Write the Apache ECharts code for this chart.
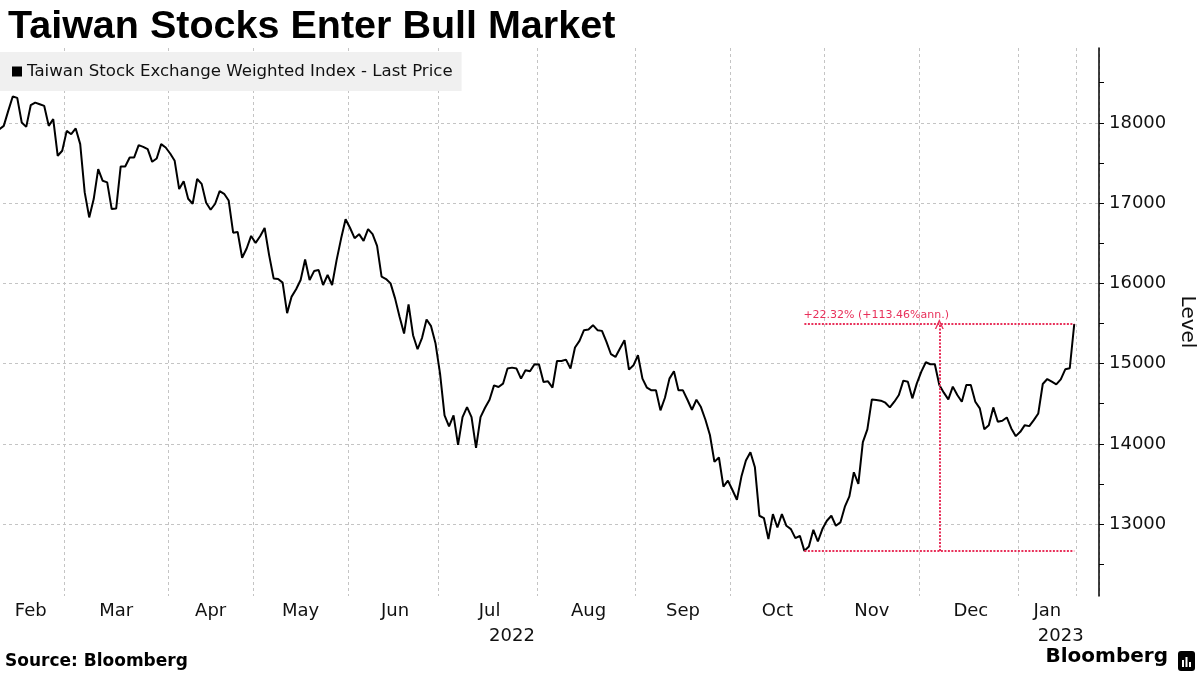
<!DOCTYPE html>
<html>
<head>
<meta charset="utf-8">
<script src="https://cdn.jsdelivr.net/npm/echarts@6/dist/echarts.min.js"></script>
<style>
  html, body { margin: 0; padding: 0; background: #fff; }
  #c { width: 1200px; height: 675px; }
</style>
</head>
<body>
<div id="c"></div>
<script>
// ---------------- DATA ----------------
const titleText = 'Taiwan Stocks Enter Bull Market';
const seriesName = 'Taiwan Stock Exchange Weighted Index - Last Price';
const yAxisName = 'Level';
const sourceText = 'Source: Bloomberg';
const annotationText = '+22.32% (+113.46%ann.)';

// month keys and their labels (trading-day x axis)
const monthKeys  = ['2022-02','2022-03','2022-04','2022-05','2022-06','2022-07','2022-08','2022-09','2022-10','2022-11','2022-12','2023-01'];
const monthNames = ['Feb','Mar','Apr','May','Jun','Jul','Aug','Sep','Oct','Nov','Dec','Jan'];
const yearLabels = ['2022','2023'];

// daily closes (one value per trading day), grouped by the month band they sit in
const feb = [17921, 17963, 18149, 18328, 18311, 18004, 17950, 18220, 18253, 18232, 18211, 17963, 18046, 17590, 17652];
const mar = [17900, 17859, 17930, 17735, 17133, 16822, 17050, 17423, 17278, 17258, 16926, 16934, 17457, 17457, 17569, 17569, 17722, 17701, 17672, 17515, 17556, 17735, 17693];
const apr = [17618, 17527, 17175, 17273, 17054, 16992, 17301, 17240, 17004, 16917, 16992, 17149, 17116, 17033, 16632, 16641, 16319, 16434, 16591];
const may = [16504, 16587, 16690, 16352, 16062, 16054, 16009, 15629, 15835, 15926, 16042, 16298, 16042, 16153, 16166, 15980, 16104, 15980, 16290, 16558, 16798];
const jun = [16690, 16563, 16613, 16529, 16675, 16613, 16467, 16083, 16054, 16000, 15813, 15583, 15375, 15738, 15354, 15179, 15321, 15550, 15467, 15250];
const jul = [14875, 14354, 14217, 14354, 13987, 14333, 14458, 14333, 13950, 14333, 14450, 14550, 14729, 14708, 14750, 14938, 14950, 14938, 14813, 14917, 14904, 14992];
const aug = [14988, 14771, 14779, 14700, 15033, 15033, 15050, 14938, 15200, 15283, 15417, 15425, 15479, 15417, 15408, 15271, 15117, 15083, 15188, 15292, 14925, 14979];
const sep = [15104, 14813, 14700, 14667, 14667, 14417, 14575, 14813, 14904, 14667, 14667, 14550, 14425, 14550, 14458, 14300, 14110, 13775, 13830, 13467, 13542];
const oct = [13425, 13304, 13592, 13792, 13896, 13708, 13104, 13075, 12813, 13125, 12958, 13125, 12979, 12938, 12825, 12854, 12666.12, 12721, 12929, 12783, 12938];
const nov = [13042, 13104, 12979, 13021, 13217, 13346, 13646, 13500, 14021, 14180, 14554, 14546, 14538, 14513, 14454, 14525, 14608, 14788, 14775, 14567, 14754];
const dec = [14900, 15017, 14992, 14992, 14733, 14638, 14554, 14713, 14608, 14525, 14733, 14733, 14525, 14442, 14183, 14233, 14454, 14275, 14288, 14329, 14192, 14096];
const jan = [14150, 14233, 14221, 14296, 14379, 14746, 14808, 14775, 14742, 14804, 14929, 14942, 15493.82];

// empty trading-day slots after the last close (axis runs a little past the data)
const emptySlotsAfter = 5;

// y axis
const yMin = 12104, yMax = 18933;
const yLabelValues = [13000, 14000, 15000, 16000, 17000, 18000];
const yTickValues  = [12500, 13000, 13500, 14000, 14500, 15000, 15500, 16000, 16500, 17000, 17500, 18000, 18500];

// ---------------- BUILD ----------------
const monthly = [feb, mar, apr, may, jun, jul, aug, sep, oct, nov, dec, jan];
const cats = [], vals = [], monthOfCat = {};
const boundaries = new Set(), monthLabelIdx = {}, yearLabelIdx = {};
monthly.forEach((arr, m) => {
  const start = cats.length;
  boundaries.add(start);
  arr.forEach((v, i) => {
    const c = monthKeys[m] + '-d' + (i + 1);
    cats.push(c); vals.push(v); monthOfCat[c] = m;
  });
  let mid = start + Math.round(arr.length / 2 - 0.5);
  if (m === 0) mid = start + Math.floor(arr.length / 2);
  monthLabelIdx[mid] = monthNames[m];
});
const dataEnd = cats.length;
boundaries.add(dataEnd);
for (let i = 0; i < emptySlotsAfter; i++) { cats.push('2023-02-e' + (i + 1)); vals.push(null); }
// year label positions: centre of each year's span on the axis
const firstJan = cats.findIndex(c => c.startsWith('2023'));
yearLabelIdx[Math.round(firstJan / 2)] = yearLabels[0];
yearLabelIdx[Math.floor((firstJan + cats.length) / 2)] = yearLabels[1];

// annotation anchor points
let lowIdx = 0;
vals.forEach((v, i) => { if (v != null && v < vals[lowIdx]) lowIdx = i; });
const lastIdx = dataEnd - 1;
const lowVal = vals[lowIdx], lastVal = vals[lastIdx];
const midIdx = Math.round((lowIdx + lastIdx) / 2);

const RED = '#e8305a';
const GRID = '#c4c4c4';
const FONT = 'DejaVu Sans';

const chart = echarts.init(document.getElementById('c'), null, { renderer: 'canvas' });
chart.setOption({
  animation: false,
  backgroundColor: '#fff',
  title: {
    text: titleText, left: 3, top: 2,
    textStyle: { fontFamily: 'Liberation Sans', fontWeight: 'bold', fontSize: 39.5, color: '#000' }
  },
  legend: {
    data: [seriesName], left: 0, top: 52, orient: 'horizontal',
    backgroundColor: '#f0f0f0', padding: [11, 9, 11, 12],
    icon: 'rect', itemWidth: 10, itemHeight: 10,
    textStyle: { fontFamily: FONT, fontSize: 16.6, color: '#111' },
    selectedMode: false
  },
  grid: { left: -3, right: 101, top: 48, bottom: 79, containLabel: false, outerBoundsMode: 'none' },
  xAxis: [{
    type: 'category', data: cats, boundaryGap: true, position: 'bottom',
    axisLine: { show: false }, axisTick: { show: false },
    splitLine: { show: true, interval: (i) => boundaries.has(i), lineStyle: { color: GRID, type: [3, 3], width: 1 } },
    axisLabel: {
      interval: (i) => monthLabelIdx[i] !== undefined,
      formatter: (v, i) => monthNames[monthOfCat[v]],
      margin: 6, fontFamily: FONT, fontSize: 18, color: '#111'
    }
  }, {
    type: 'category', data: cats, boundaryGap: true, position: 'bottom', offset: 25,
    axisLine: { show: false }, axisTick: { show: false }, splitLine: { show: false },
    axisLabel: {
      interval: (i) => yearLabelIdx[i] !== undefined,
      formatter: (v, i) => yearLabelIdx[cats.indexOf(v)],
      margin: 6, fontFamily: FONT, fontSize: 18, color: '#111'
    }
  }],
  yAxis: [{
    type: 'value', position: 'right', min: yMin, max: yMax,
    axisLine: { show: true, lineStyle: { color: '#000', width: 1.5 } },
    axisTick: { show: true, inside: false, length: 5, customValues: yTickValues, lineStyle: { color: '#000', width: 1 } },
    axisLabel: { customValues: yLabelValues, formatter: (v) => String(v), margin: 10, fontFamily: FONT, fontSize: 18, color: '#111' },
    splitLine: { show: false },
    name: yAxisName, nameLocation: 'middle', nameRotate: -90, nameGap: 77,
    nameTextStyle: { fontFamily: FONT, fontSize: 20, color: '#111' }
  }, {
    type: 'value', position: 'right', min: yMin, max: yMax,
    axisLine: { show: false },
    axisTick: { show: false, customValues: yLabelValues },
    axisLabel: { show: false },
    splitLine: { show: true, lineStyle: { color: GRID, type: [3, 3], width: 1 } }
  }],
  series: [{
    name: seriesName, type: 'line', data: vals, xAxisIndex: 0, yAxisIndex: 0,
    showSymbol: false, symbol: 'none', connectNulls: false,
    lineStyle: { color: '#000', width: 2 }, itemStyle: { color: '#000' },
    emphasis: { disabled: true },
    markLine: {
      silent: true, animation: false,
      symbol: ['none', 'none'],
      lineStyle: { color: RED, type: [2, 1.5], width: 2 },
      label: { show: false },
      emphasis: { disabled: true },
      data: [
        [{ coord: [cats[lowIdx], lowVal] }, { coord: [cats[lastIdx], lowVal] }],
        [{ coord: [cats[lowIdx], lastVal],
           label: { show: true, position: 'insideStartTop', formatter: annotationText, distance: [-1, 3],
                    color: RED, fontFamily: FONT, fontSize: 11 } },
         { coord: [cats[lastIdx], lastVal] }],
        [{ coord: [cats[midIdx], lowVal], symbol: 'none' },
         { coord: [cats[midIdx], lastVal], symbol: 'path://M5,0 L10,10 L8.4,10 L5,3.2 L1.6,10 L0,10 Z', symbolSize: [9, 10] }]
      ]
    }
  }],
  graphic: [
    { type: 'text', left: 5, top: 653, style: { text: sourceText, fontFamily: FONT, fontWeight: 'bold', fontSize: 17, fill: '#000' } },
    { type: 'text', right: 32, top: 647, style: { text: 'Bloomberg', fontFamily: FONT, fontWeight: 'bold', fontSize: 20, fill: '#000' } },
    { type: 'group', right: 5, top: 651, children: [
      { type: 'rect', shape: { x: 0, y: 0, width: 17, height: 20, r: 3 }, style: { fill: '#000' } },
      { type: 'rect', shape: { x: 4, y: 9, width: 2, height: 7 }, style: { fill: '#fff' } },
      { type: 'rect', shape: { x: 7.5, y: 6, width: 2, height: 10 }, style: { fill: '#fff' } },
      { type: 'rect', shape: { x: 11, y: 11, width: 2, height: 5 }, style: { fill: '#fff' } }
    ] }
  ]
});
</script>
</body>
</html>
